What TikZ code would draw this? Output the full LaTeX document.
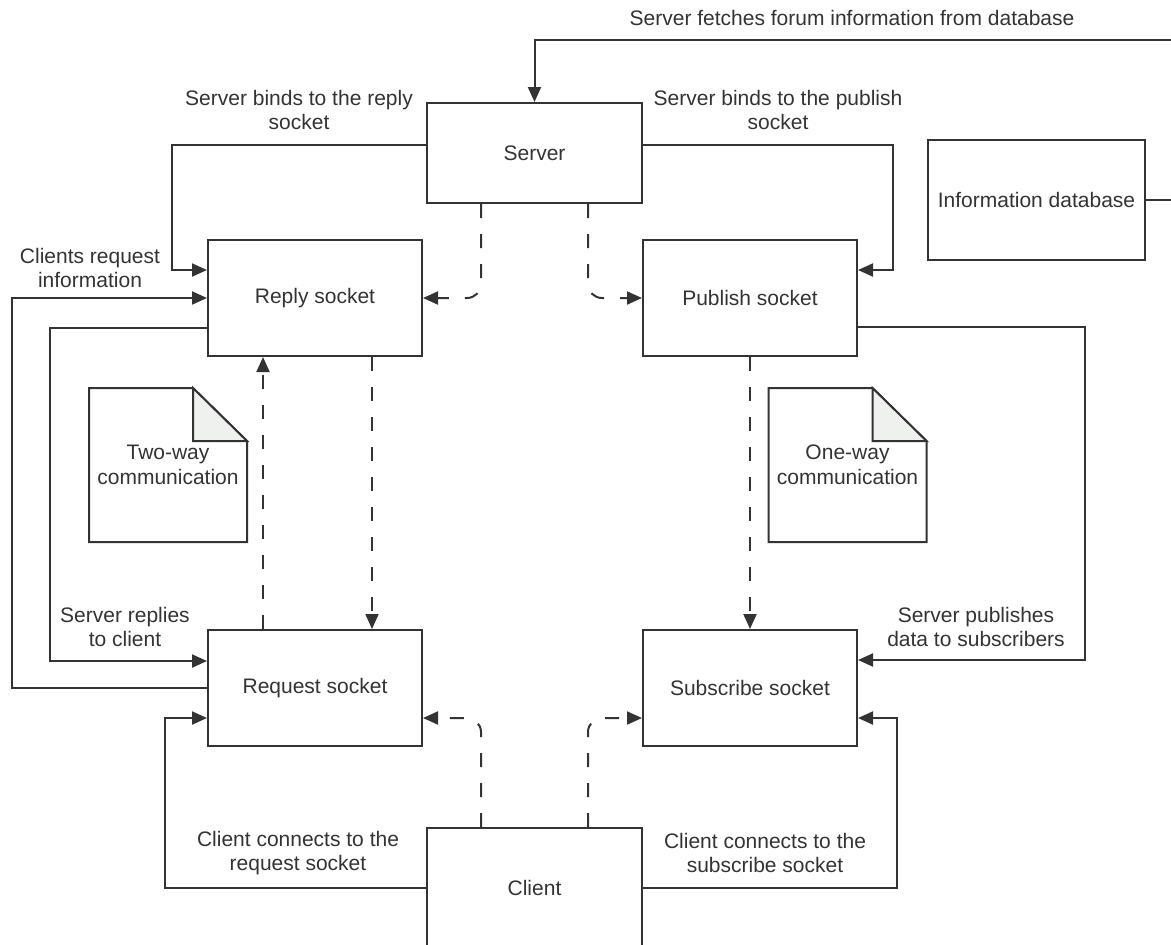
\documentclass[tikz,border=0pt]{standalone}
\usepackage{fontspec}
\setmainfont{Liberation Sans}
\usetikzlibrary{arrows.meta}
\usetikzlibrary{calc}
\usetikzlibrary{positioning}
\definecolor{lc}{HTML}{333333}
\definecolor{foldgray}{HTML}{EFF1EF}

\begin{document}
\begin{tikzpicture}[x=0.5pt, y=-0.5pt, line width=1pt, color=lc,
every node/.style={font=\fontsize{10.5}{12.3}\selectfont, align=center, inner sep=0pt},
box/.style={draw, rectangle, minimum width=107pt, minimum height=58pt},
arr/.style={-{Triangle[length=7.5pt,width=6.5pt]}},
dsh/.style={arr, dash pattern=on 7pt off 8pt, rounded corners=7pt}]
\clip (0,0) rectangle (1171,944);
\node[box, minimum width=107.5pt, minimum height=50pt] (server) at (534.5,153) {Server};
\node[box, minimum width=108.5pt, minimum height=60pt] (db) at (1036.5,200) {Information database};
\node[box] (reply) at (315,298) {Reply socket};
\node[box] (publish) at (750,298) {Publish socket};
\node[box] (request) at (315,688) {Request socket};
\node[box] (subscribe) at (750,688) {Subscribe socket};
\node[box, minimum width=107.5pt, minimum height=60pt] (client) at (534.5,888) {Client};
\foreach \n/\x/\t in {twoway/168/Two-way, oneway/847.5/One-way}{
\node[minimum width=78pt, minimum height=76pt] (\n) at (\x,465) {\t\\communication};
\draw (\n.north west) -- ($(\n.north east)+(-54,0)$) -- ($(\n.north east)+(0,53)$) -- (\n.south east) -- (\n.south west) -- cycle;
\filldraw[fill=foldgray] ($(\n.north east)+(-54,0)$) -- ($(\n.north east)+(-54,53)$) -- ($(\n.north east)+(0,53)$) -- cycle;}
\node (fetch) at (852,18) {Server fetches forum information from database};
\node (bindrep) at (299,110) {Server binds to the reply\\socket};
\node (bindpub) at (778,110) {Server binds to the publish\\socket};
\node (clireq) at (90,268) {Clients request\\information};
\node (srvrep) at (125,627) {Server replies\\to client};
\node (srvpub) at (976,627) {Server publishes\\data to subscribers};
\node (conreq) at (298,853) {Client connects to the\\request socket};
\node (consub) at (765,853) {Client connects to the\\subscribe socket};
\draw[arr] (db.east) -- (1173,200) -- (1173,40) -| (server.north);
\draw[arr] ($(server.west)+(0,-8)$) -| (172,270) -- ($(reply.west)+(0,-28)$);
\draw[arr] ($(server.east)+(0,-8)$) -| (893,270) -- ($(publish.east)+(0,-28)$);
\draw[dsh] ($(server.south)+(-53.5,0)$) |- (reply.east);
\draw[dsh] ($(server.south)+(53.5,0)$) |- (publish.west);
\draw[dsh] ($(reply.south)+(57,0)$) -- ($(request.north)+(57,0)$);
\draw[dsh] ($(request.north)+(-52,0)$) -- ($(reply.south)+(-52,0)$);
\draw[dsh] (publish.south) -- (subscribe.north);
\draw[arr] ($(reply.west)+(0,30)$) -| (50,661) -- ($(request.west)+(0,-27)$);
\draw[arr] (request.west) -| (12,298) -- (reply.west);
\draw[arr] ($(publish.east)+(0,29)$) -| (1085,660) -- ($(subscribe.east)+(0,-28)$);
\draw[arr] (client.west) -| (165,718) -- ($(request.west)+(0,30)$);
\draw[arr] (client.east) -| (897,718) -- ($(subscribe.east)+(0,30)$);
\draw[dsh] ($(client.north)+(-53.5,0)$) |- ($(request.east)+(0,30)$);
\draw[dsh] ($(client.north)+(53.5,0)$) |- ($(subscribe.west)+(0,30)$);
\end{tikzpicture}
\end{document}
